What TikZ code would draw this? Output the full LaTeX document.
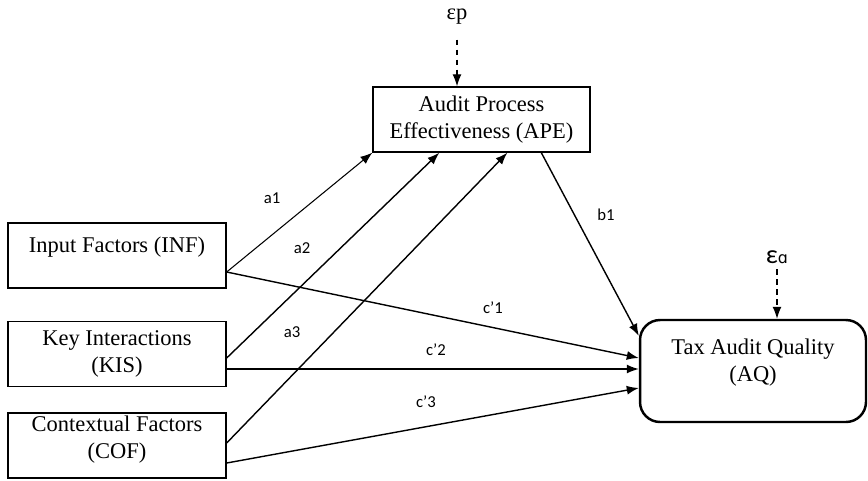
\documentclass[tikz,border=0pt]{standalone}
\usepackage{fontspec}
\setmainfont{Liberation Serif}
\newfontfamily\lblfont{Carlito}
\newfontfamily\symfont{DejaVu Sans}
\usetikzlibrary{arrows.meta,calc}

\begin{document}
\begin{tikzpicture}[x=0.02cm,y=-0.02cm,
	box/.style={draw,line width=0.8pt,minimum width=4.36cm,minimum height=1.3cm,align=center,inner sep=0pt,font=\fontsize{12.8}{15.3}\selectfont},
	lab/.style={font=\lblfont\fontsize{9.5}{11}\selectfont,inner sep=0pt},
	arr/.style={-{Latex[length=2.4mm,width=1.8mm]},line width=0.8pt},
	err/.style={arr,dash pattern=on 1.1mm off 0.9mm,line width=0.7pt}]
	\useasboundingbox (0,0) rectangle (868,480);
	\node[box,text depth=12.8pt] (INF) at (117,255.5) {Input Factors (INF)};
	\node[box] (KIS) at (117,354) {Key Interactions\\(KIS)};
	\node[box,text depth=9pt] (COF) at (117,445.5) {Contextual Factors\\(COF)};
	\node[box,minimum width=4.34cm] (APE) at (481.5,119.5) {Audit Process\\Effectiveness (APE)};
	\node[box,rounded corners=0.4cm,line width=1.4pt,minimum width=4.52cm,minimum height=2.04cm,text depth=12.5pt] (AQ) at (753,371) {Tax Audit Quality\\(AQ)};
	\node[inner sep=0pt,font=\fontsize{12.8}{15}\selectfont] (ep) at (457,17) {εp};
	\node[inner sep=0pt] (eq) at (777,257.5) {{\lblfont\fontsize{15}{15}\selectfont ε}{\symfont\fontsize{9}{9}\selectfont ɑ}};
	\node[lab] (la1) at (272,198) {a1};
	\node[lab] (la2) at (302,248) {a2};
	\node[lab] (la3) at (292,332) {a3};
	\node[lab] (lb1) at (606,215) {b1};
	\node[lab] (lc1) at (493,308) {c’1};
	\node[lab] (lc2) at (436,350) {c’2};
	\node[lab] (lc3) at (426,402) {c’3};
	\draw [err,shorten <=0.29cm] (ep) -- (ep |- APE.north);
	\draw [err,shorten <=0.1cm] (eq) -- (eq |- AQ.north);
	\draw [arr,line width=0.6pt] ($(INF.east)+(0,16.5)$) -- (APE.south west);
	\draw [arr] ($(INF.east)+(0,16.5)$) -- ($(AQ.west)+(0,-13)$);
	\draw [arr] ($(KIS.east)+(0,4)$) -- ($(APE.south west)+(67,0)$);
	\draw [arr] ($(KIS.east)+(0,15)$) -- ($(AQ.west)+(0,-2)$);
	\draw [arr] ($(COF.east)+(0,-2.5)$) -- ($(APE.south west)+(135,0)$);
	\draw [arr] ($(COF.east)+(0,17.5)$) -- ($(AQ.west)+(0,17)$);
	\draw [arr] ($(APE.south west)+(169,0)$) -- ($(AQ.north west)+(0,17)$);
\end{tikzpicture}
\end{document}
